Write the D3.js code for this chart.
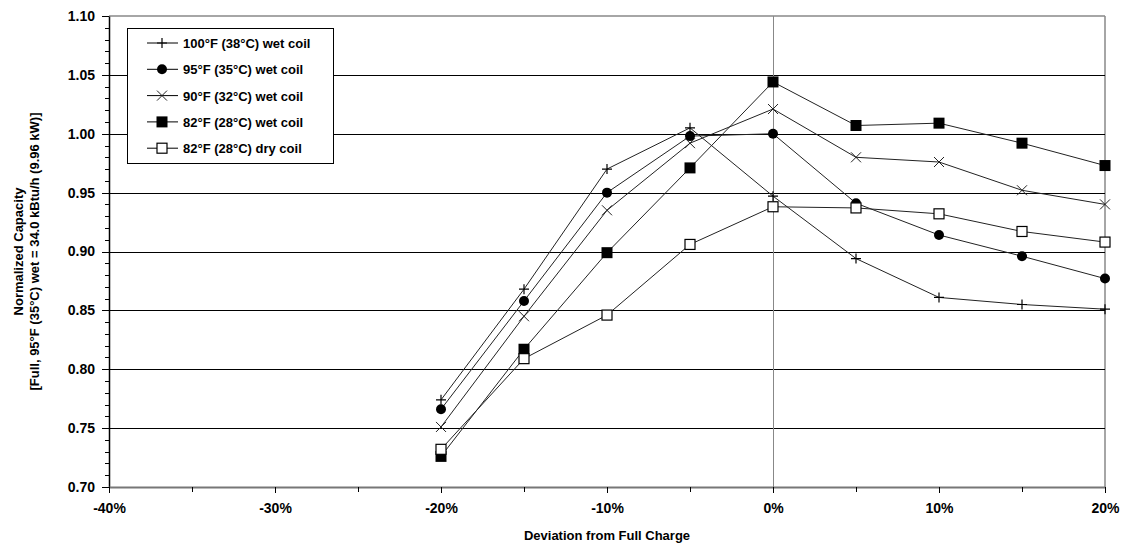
<!DOCTYPE html>
<html>
<head>
<meta charset="utf-8">
<script src="https://cdn.jsdelivr.net/npm/d3@7/dist/d3.min.js"></script>
<style>
  html, body { margin: 0; padding: 0; background: #fff; }
  svg { display: block; font-family: "Liberation Sans", Arial, sans-serif; }
</style>
</head>
<body>
<svg id="chart" width="1127" height="559"></svg>
<script>
// ---- data ----
const categories = [-20, -15, -10, -5, 0, 5, 10, 15, 20];
const seriesNames = [
  "100\u00B0F (38\u00B0C) wet coil",
  "95\u00B0F (35\u00B0C) wet coil",
  "90\u00B0F (32\u00B0C) wet coil",
  "82\u00B0F (28\u00B0C) wet coil",
  "82\u00B0F (28\u00B0C) dry coil"
];
const wet100 = [0.774, 0.868, 0.970, 1.005, 0.947, 0.894, 0.861, 0.855, 0.851];
const wet95  = [0.766, 0.858, 0.950, 0.998, 1.000, 0.941, 0.914, 0.896, 0.877];
const wet90  = [0.751, 0.845, 0.935, 0.992, 1.021, 0.980, 0.976, 0.952, 0.940];
const wet82  = [0.726, 0.817, 0.899, 0.971, 1.044, 1.007, 1.009, 0.992, 0.973];
const dry82  = [0.732, 0.809, 0.846, 0.906, 0.938, 0.937, 0.932, 0.917, 0.908];
const xTicks = [-40, -35, -30, -25, -20, -15, -10, -5, 0, 5, 10, 15, 20];
const xLabels = [-40, -30, -20, -10, 0, 10, 20];
const yTicks = [0.70, 0.75, 0.80, 0.85, 0.90, 0.95, 1.00, 1.05, 1.10];
const xTitle = "Deviation from Full Charge";
const yTitle1 = "Normalized Capacity";
const yTitle2 = "[Full, 95\u00B0F (35\u00B0C) wet = 34.0 kBtu/h (9.96 kW)]";

const seriesValues = [wet100, wet95, wet90, wet82, dry82];
const markerTypes = ["plus", "dot", "cross", "square", "openSquare"];

// ---- layout ----
const W = 1127, H = 559;
const m = { left: 109, right: 22, top: 16, bottom: 72 };
const svg = d3.select("#chart");
const x = d3.scaleLinear().domain([-40, 20]).range([m.left, W - m.right]);
const y = d3.scaleLinear().domain([0.70, 1.10]).range([H - m.bottom, m.top]);

// plot frame (gray top/right)
svg.append("line").attr("x1", x(-40)).attr("x2", x(20)).attr("y1", y(1.10)).attr("y2", y(1.10))
  .attr("stroke", "#888").attr("stroke-width", 1.5);
svg.append("line").attr("x1", x(20)).attr("x2", x(20)).attr("y1", y(1.10)).attr("y2", y(0.70))
  .attr("stroke", "#888").attr("stroke-width", 1.5);

// horizontal gridlines
svg.append("g").selectAll("line").data(yTicks.filter(v => v > 0.70 && v < 1.10)).join("line")
  .attr("x1", x(-40)).attr("x2", x(20))
  .attr("y1", d => Math.round(y(d)) + 0.5).attr("y2", d => Math.round(y(d)) + 0.5)
  .attr("stroke", "#000").attr("stroke-width", 1);

// vertical line at 0%
svg.append("line").attr("x1", Math.round(x(0)) + 0.5).attr("x2", Math.round(x(0)) + 0.5)
  .attr("y1", y(1.10)).attr("y2", y(0.70)).attr("stroke", "#888").attr("stroke-width", 1);

// y axis
const yMinor = d3.range(70, 111).map(v => v / 100);
svg.append("g").selectAll("line").data(yMinor).join("line")
  .attr("x1", d => x(-40) - (Math.round(d * 100) % 5 === 0 ? 7 : 4)).attr("x2", x(-40))
  .attr("y1", d => Math.round(y(d)) + 0.5).attr("y2", d => Math.round(y(d)) + 0.5)
  .attr("stroke", "#000").attr("stroke-width", 1);
const yAxis = d3.axisLeft(y).tickValues(yTicks).tickFormat(d3.format(".2f")).tickSize(0).tickPadding(14);
const gy = svg.append("g").attr("transform", `translate(${x(-40)},0)`).call(yAxis);
gy.select(".domain").attr("stroke", "#000").attr("stroke-width", 1.5);
gy.selectAll("text").attr("font-size", 14).attr("font-weight", "bold").attr("fill", "#000")
  .attr("font-family", "Liberation Sans, Arial, sans-serif");

// x axis
const xAxis = d3.axisBottom(x).tickValues(xTicks).tickFormat(d => xLabels.includes(d) ? d + "%" : "")
  .tickSize(6).tickPadding(10).tickSizeOuter(0);
const gx = svg.append("g").attr("transform", `translate(0,${y(0.70)})`).call(xAxis);
gx.select(".domain").attr("stroke", "#777").attr("stroke-width", 2);
gx.selectAll(".tick line").attr("stroke", "#000").attr("y2", d => xLabels.includes(d) ? 6 : 5);
gx.selectAll("text").attr("font-size", 14).attr("font-weight", "bold").attr("fill", "#000")
  .attr("font-family", "Liberation Sans, Arial, sans-serif");

// axis titles
svg.append("text").attr("x", (x(-40) + x(20)) / 2).attr("y", 540).attr("text-anchor", "middle")
  .attr("font-size", 13).attr("font-weight", "bold").text(xTitle);
const ty = svg.append("text").attr("transform", `translate(0,${(y(0.70) + y(1.10)) / 2}) rotate(-90)`)
  .attr("text-anchor", "middle").attr("font-size", 13).attr("font-weight", "bold");
ty.append("tspan").attr("x", 0).attr("y", 23).text(yTitle1);
ty.append("tspan").attr("x", 0).attr("y", 39).text(yTitle2);

// markers
function drawMarker(g, type, cx, cy) {
  if (type === "plus") {
    g.append("path").attr("d", `M${cx - 5},${cy}H${cx + 5}M${cx},${cy - 5}V${cy + 5}`)
      .attr("stroke", "#000").attr("stroke-width", 1.2).attr("fill", "none");
  } else if (type === "cross") {
    g.append("path").attr("d", `M${cx - 5},${cy - 5}L${cx + 5},${cy + 5}M${cx - 5},${cy + 5}L${cx + 5},${cy - 5}`)
      .attr("stroke", "#222").attr("stroke-width", 1).attr("fill", "none");
  } else if (type === "dot") {
    g.append("circle").attr("cx", cx).attr("cy", cy).attr("r", 5).attr("fill", "#000");
  } else if (type === "square") {
    g.append("rect").attr("x", cx - 5.5).attr("y", cy - 5.5).attr("width", 11).attr("height", 11).attr("fill", "#000");
  } else if (type === "openSquare") {
    g.append("rect").attr("x", cx - 5).attr("y", cy - 5).attr("width", 10).attr("height", 10)
      .attr("fill", "#fff").attr("stroke", "#000").attr("stroke-width", 1.2);
  }
}

const line = d3.line().x(d => x(d[0])).y(d => y(d[1]));
seriesValues.forEach((vals, i) => {
  const pts = categories.map((c, j) => [c, vals[j]]);
  const g = svg.append("g");
  g.append("path").attr("d", line(pts)).attr("fill", "none").attr("stroke", "#222").attr("stroke-width", 1);
  pts.forEach(p => drawMarker(g, markerTypes[i], x(p[0]), y(p[1])));
});

// legend
const lg = svg.append("g");
const lx = 127, ly = 28, lw = 206, lh = 135;
lg.append("rect").attr("x", lx + 0.5).attr("y", ly + 0.5).attr("width", lw).attr("height", lh)
  .attr("fill", "#fff").attr("stroke", "#000").attr("stroke-width", 1);
seriesNames.forEach((name, i) => {
  const cy = ly + 15 + i * 26.3;
  lg.append("line").attr("x1", lx + 20).attr("x2", lx + 51).attr("y1", cy).attr("y2", cy)
    .attr("stroke", "#000").attr("stroke-width", 1);
  drawMarker(lg, markerTypes[i], lx + 35, cy);
  lg.append("text").attr("x", lx + 56).attr("y", cy + 5).attr("font-size", 13).attr("font-weight", "bold")
    .attr("fill", "#000").text(name);
});
</script>
</body>
</html>
